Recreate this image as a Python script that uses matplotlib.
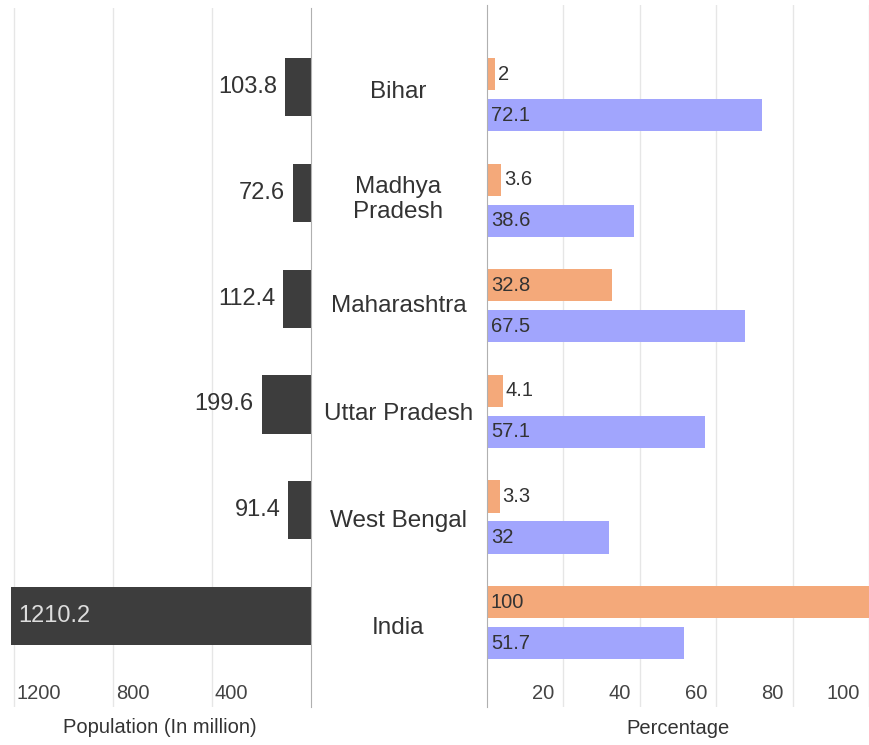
import numpy as np
import matplotlib

matplotlib.use('Agg')
import matplotlib.pyplot as plt
import matplotlib.transforms as mtransforms

plt.rcParams['font.family'] = ['Liberation Sans', 'DejaVu Sans']

states = ['Bihar', 'Madhya\nPradesh', 'Maharashtra', 'Uttar Pradesh', 'West Bengal', 'India']
population = [103.8, 72.6, 112.4, 199.6, 91.4, 1210.2]
pct_orange = [2, 3.6, 32.8, 4.1, 3.3, 100]
pct_blue = [72.1, 38.6, 67.5, 57.1, 32, 51.7]
pop_ticks = [400, 800, 1200]
pct_ticks = [20, 40, 60, 80, 100]

dark = '#3d3d3d'
orange = '#f4a97a'
blue = '#a1a5fd'
grid_c = '#e6e6e6'
spine_c = '#b0b0b0'
txt_c = '#333333'

W, H = 869, 745
fig = plt.figure(figsize=(W / 100, H / 100), dpi=100)

def px_axes(x0, x1, y0, y1):
    return fig.add_axes([x0 / W, 1 - y1 / H, (x1 - x0) / W, (y1 - y0) / H])

y = np.arange(len(states))

# ---- left panel: population
axl = px_axes(9, 311, 8, 707)
axl.barh(y, population, height=0.55, color=dark)
axl.set_xlim(1220, 0)
axl.set_ylim(5.86, -0.747)
axl.set_xticks(pop_ticks)
axl.set_yticks([])
axl.tick_params(length=0, labelbottom=False)
axl.grid(axis='x', color=grid_c, lw=1)
axl.set_axisbelow(True)
for s in ['top', 'bottom', 'left']:
    axl.spines[s].set_visible(False)
axl.spines['right'].set_color(spine_c)

for i, v in enumerate(population):
    if v > 600:
        off = mtransforms.offset_copy(axl.transData, fig=fig, x=7, y=0, units='dots')
        axl.text(v, i, '%.1f' % v, transform=off, ha='left', va='center',
                 fontsize=17, color='#dddddd')
    else:
        off = mtransforms.offset_copy(axl.transData, fig=fig, x=-8, y=0, units='dots')
        axl.text(v, i, '%.1f' % v, transform=off, ha='right', va='center',
                 fontsize=17, color=txt_c)

tr = mtransforms.blended_transform_factory(axl.transData, axl.transAxes)
tr = mtransforms.offset_copy(tr, fig=fig, x=3, y=0, units='dots')
for t in pop_ticks:
    axl.text(t, 0.019, str(t), transform=tr, ha='left', va='center',
             fontsize=14.5, color='#444444')
axl.text(0.5, -0.03, 'Population (In million)', transform=axl.transAxes,
         ha='center', va='center', fontsize=14.5, color=txt_c)

# state names in the middle
trm = mtransforms.blended_transform_factory(fig.transFigure, axl.transData)
for i, s in enumerate(states):
    fig.text(398.5 / W, i + 0.05 + 0.012 * i, s, transform=trm, ha='center', va='center',
             fontsize=17.5, color=txt_c, linespacing=1.2)

# ---- right panel: percentage
axr = px_axes(487, 869, 5, 707)
hb = 0.305
axr.barh(y - 0.194, pct_orange, height=hb, color=orange)
axr.barh(y + 0.194, pct_blue, height=hb, color=blue)
axr.set_xlim(0, 99.0)
axr.set_ylim(5.80, -0.848)
axr.set_xticks(pct_ticks)
axr.set_yticks([])
axr.tick_params(length=0, labelbottom=False)
axr.grid(axis='x', color=grid_c, lw=1)
axr.set_axisbelow(True)
for s in ['top', 'bottom', 'right']:
    axr.spines[s].set_visible(False)
axr.spines['left'].set_color(spine_c)

for vals, dy in [(pct_orange, -0.194), (pct_blue, 0.194)]:
    for i, v in enumerate(vals):
        lab = ('%g' % v)
        if v < 10:
            off = mtransforms.offset_copy(axr.transData, fig=fig, x=3, y=0, units='dots')
            axr.text(v, i + dy, lab, transform=off, ha='left', va='center',
                     fontsize=14.5, color=txt_c)
        else:
            off = mtransforms.offset_copy(axr.transData, fig=fig, x=4, y=0, units='dots')
            axr.text(0, i + dy, lab, transform=off, ha='left', va='center',
                     fontsize=14.5, color=txt_c)

tr2 = mtransforms.blended_transform_factory(axr.transData, axr.transAxes)
tr2 = mtransforms.offset_copy(tr2, fig=fig, x=-9, y=0, units='dots')
for t in pct_ticks:
    axr.text(t, 0.019, str(t), transform=tr2, ha='right', va='center',
             fontsize=14.5, color='#444444', clip_on=False)
axr.text(0.5, -0.03, 'Percentage', transform=axr.transAxes,
         ha='center', va='center', fontsize=14.5, color=txt_c)

plt.savefig('out.png', dpi=100)
